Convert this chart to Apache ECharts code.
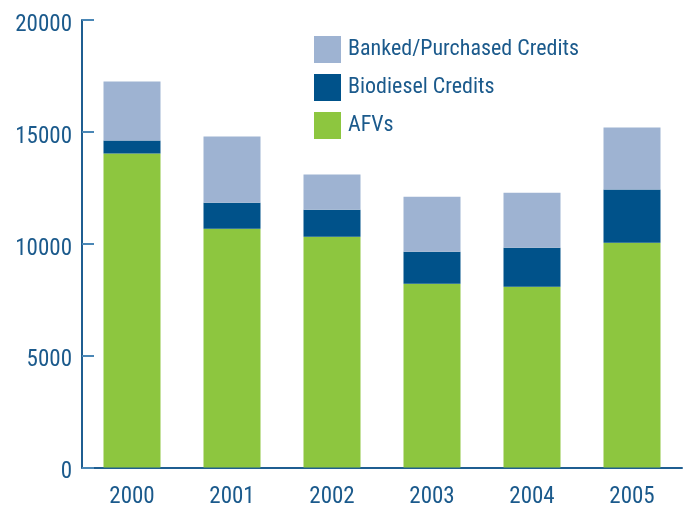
<!DOCTYPE html>
<html><head><meta charset="utf-8">
<script src="https://cdn.jsdelivr.net/npm/echarts@6/dist/echarts.min.js"></script>
<style>html,body{margin:0;padding:0;background:#fff}#c{width:691px;height:505px}</style>
</head><body><div id="c"></div>
<script>
var categories = ['2000','2001','2002','2003','2004','2005'];
var afvs = [14030, 10670, 10310, 8210, 8080, 10040];
var biodiesel = [580, 1160, 1210, 1430, 1740, 2380];
var banked = [2640, 2960, 1570, 2460, 2460, 2770];
var yTicks = [0, 5000, 10000, 15000, 20000];

var FONT = '"Liberation Sans Narrow", "Roboto Condensed", "Liberation Sans", sans-serif';
var TXT = '#1B5A8C';
var chart = echarts.init(document.getElementById('c'));
chart.setOption({
  animation: false,
  grid: {left: 82, right: 9, top: 20, bottom: 37.5, containLabel: false, outerBoundsMode: 'none'},
  legend: {
    orient: 'vertical', left: 314, top: 36, padding: 0,
    itemWidth: 27, itemHeight: 27, itemGap: 11,
    icon: 'rect',
    data: ['Banked/Purchased Credits', 'Biodiesel Credits', 'AFVs'],
    textStyle: {color: TXT, fontSize: 22, fontFamily: FONT, padding: [0,0,0,2]}
  },
  xAxis: {
    type: 'category', data: categories,
    axisLine: {lineStyle: {color: '#1F5E91', width: 2}},
    axisTick: {inside: true, length: 8, lineStyle: {color: '#4A87B6', width: 2}},
    axisLabel: {color: TXT, fontSize: 23, fontFamily: FONT, margin: 18}
  },
  yAxis: {
    type: 'value', min: 0, max: 20000, interval: 5000,
    splitLine: {show: false},
    axisLine: {show: true, lineStyle: {color: '#1F5E91', width: 2}},
    axisTick: {show: true, inside: true, length: 12, lineStyle: {color: '#4A87B6', width: 2}},
    axisLabel: {color: TXT, fontSize: 23, fontFamily: FONT, margin: 10, verticalAlign: 'top', lineHeight: 10,
      formatter: function(v){ return yTicks.indexOf(v) >= 0 ? String(v) : ''; }}
  },
  series: [
    {name: 'AFVs', type: 'bar', stack: 's', data: afvs, barWidth: '57%', itemStyle: {color: '#8DC63F'}},
    {name: 'Biodiesel Credits', type: 'bar', stack: 's', data: biodiesel, itemStyle: {color: '#00528A'}},
    {name: 'Banked/Purchased Credits', type: 'bar', stack: 's', data: banked, itemStyle: {color: '#9EB3D2'}}
  ]
});
</script></body></html>
